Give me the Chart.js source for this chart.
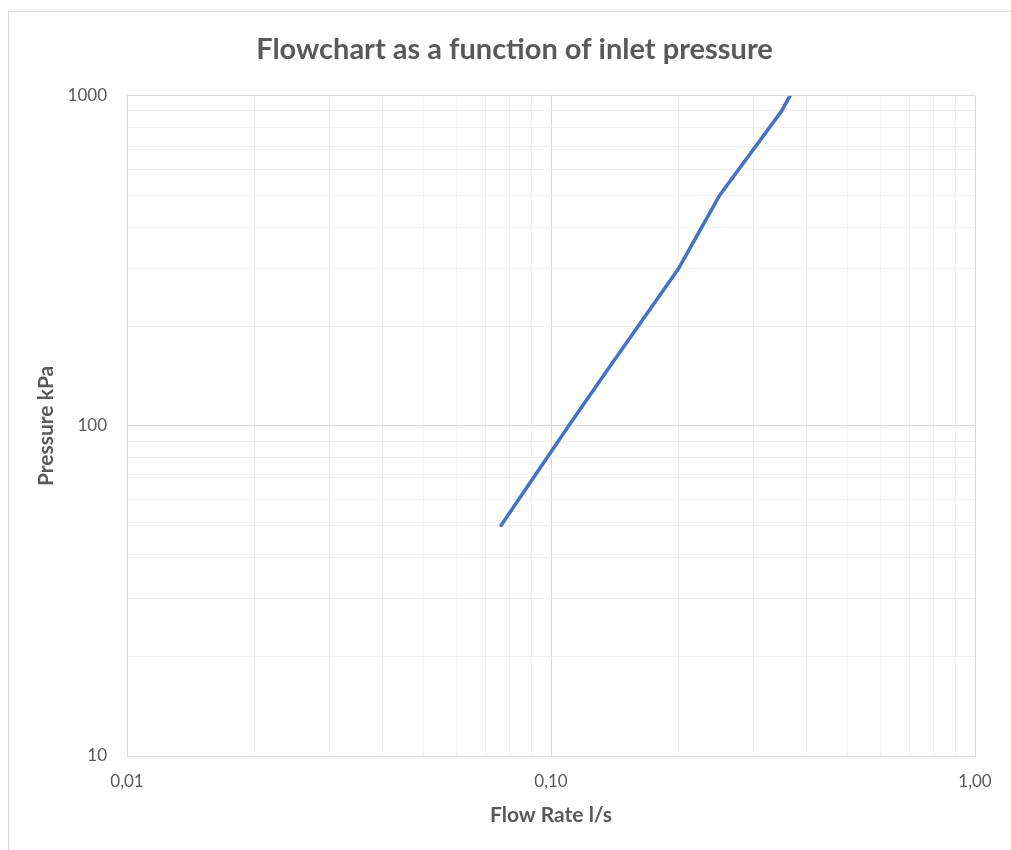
<!DOCTYPE html>
<html>
<head>
<meta charset="utf-8">
<script src="https://cdn.jsdelivr.net/npm/chart.js@4/dist/chart.umd.min.js"></script>
<style>
  html, body { margin: 0; padding: 0; background: #fff; }
  #wrap { width: 1011px; height: 850px; }
</style>
</head>
<body>
<div id="wrap"><canvas id="flowChart" width="1011" height="850"></canvas></div>
<script>
// flow rate (l/s) vs inlet pressure (kPa)
const flowRate = [0.0763, 0.11, 0.137, 0.2, 0.25, 0.35, 0.366];
const pressure = [50, 100, 150, 300, 500, 900, 1000];

const xMajor = [0.01, 0.1, 1];
const xLabels = ['0,01', '0,10', '1,00'];
const yMajor = [10, 100, 1000];
const yLabels = ['10', '100', '1000'];

const textColor = '#595959';
const majorGrid = '#d9d9d9';
const minorGrid = '#f0f0f0';

// 1..9 x each decade, used for the light minor grid
function decadeTicks(majors) {
    const out = [];
    for (let i = 0; i < majors.length - 1; i++) {
        for (let m = 1; m < 10; m++) out.push({ value: +(majors[i] * m).toPrecision(6) });
    }
    out.push({ value: majors[majors.length - 1] });
    return out;
}

function isMajor(v) {
    const l = Math.log10(v);
    return Math.abs(l - Math.round(l)) < 1e-9;
}

function labelFor(majors, labels, v) {
    const i = majors.findIndex(m => Math.abs(m - v) < m * 1e-6);
    return i >= 0 ? labels[i] : '';
}

const frame = {
    id: 'frame',
    beforeDraw(chart) {
        const ctx = chart.ctx;
        ctx.save();
        ctx.strokeStyle = majorGrid;
        ctx.lineWidth = 1;
        ctx.strokeRect(8.5, 11.5, 1200, 1000);
        ctx.restore();
    }
};

const flowChart = new Chart(document.getElementById('flowChart'), {
    type: 'scatter',
    data: {
        datasets: [{
            label: 'Pressure',
            data: flowRate.map((x, i) => ({ x, y: pressure[i] })),
            showLine: true,
            borderColor: '#4472c4',
            backgroundColor: '#4472c4',
            borderWidth: 3.5,
            borderCapStyle: 'round',
            borderJoinStyle: 'round',
            pointRadius: 0,
            pointHoverRadius: 0,
            tension: 0
        }]
    },
    options: {
        responsive: false,
        animation: false,
        layout: { padding: { left: 54, right: 36, top: 0, bottom: 0 } },
        plugins: {
            legend: { display: false },
            tooltip: { enabled: false },
            title: {
                display: true,
                text: 'Flowchart as a function of inlet pressure',
                color: textColor,
                font: { family: 'Lato', size: 29, weight: 'bold' },
                padding: { top: 32, bottom: 29 }
            }
        },
        scales: {
            x: {
                type: 'logarithmic',
                min: 0.01,
                max: 1,
                afterBuildTicks: s => { s.ticks = decadeTicks(xMajor); },
                afterFit: s => { s.height = 94; },
                ticks: {
                    autoSkip: false,
                    maxRotation: 0,
                    padding: 15,
                    color: textColor,
                    font: { family: 'Lato', size: 17 },
                    callback: v => labelFor(xMajor, xLabels, v)
                },
                grid: {
                    drawTicks: false,
                    color: c => (c.tick && isMajor(c.tick.value)) ? majorGrid : minorGrid
                },
                border: { color: majorGrid },
                title: {
                    display: true,
                    text: 'Flow Rate l/s',
                    color: textColor,
                    font: { family: 'Lato', size: 21, weight: 'bold' },
                    padding: { top: 0, bottom: 22 }
                }
            },
            y: {
                type: 'logarithmic',
                min: 10,
                max: 1000,
                afterBuildTicks: s => { s.ticks = decadeTicks(yMajor); },
                afterFit: s => { s.width = 73; },
                ticks: {
                    autoSkip: false,
                    padding: 20,
                    color: textColor,
                    font: { family: 'Lato', size: 17 },
                    callback: v => labelFor(yMajor, yLabels, v)
                },
                grid: {
                    drawTicks: false,
                    color: c => (c.tick && isMajor(c.tick.value)) ? majorGrid : minorGrid
                },
                border: { color: majorGrid },
                title: {
                    display: true,
                    text: 'Pressure kPa',
                    color: textColor,
                    font: { family: 'Lato', size: 21, weight: 'bold' },
                    padding: { top: -20, bottom: 0 }
                }
            }
        }
    },
    plugins: [frame]
});
</script>
</body>
</html>
